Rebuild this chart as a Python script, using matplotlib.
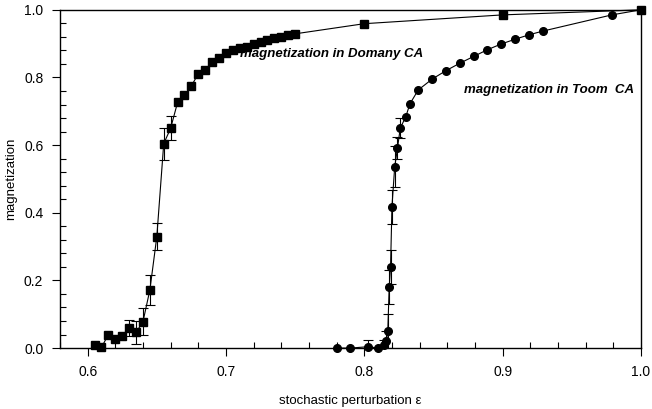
import numpy as np
import matplotlib

matplotlib.use('Agg')
import matplotlib.pyplot as plt
from matplotlib.ticker import MultipleLocator

plt.rcParams['font.family'] = ['Liberation Sans', 'DejaVu Sans']

# Domany CA
dom_eps = [0.605, 0.61, 0.615, 0.62, 0.625, 0.63, 0.635, 0.64, 0.645, 0.65,
           0.655, 0.66, 0.665, 0.67, 0.675, 0.68, 0.685, 0.69, 0.695, 0.70,
           0.705, 0.71, 0.715, 0.72, 0.725, 0.73, 0.735, 0.74, 0.745, 0.75,
           0.80, 0.90, 1.00]
dom_m = [0.009, 0.002, 0.040, 0.026, 0.036, 0.060, 0.046, 0.078, 0.172, 0.329,
         0.604, 0.650, 0.726, 0.747, 0.775, 0.811, 0.822, 0.845, 0.859, 0.872,
         0.880, 0.887, 0.891, 0.898, 0.904, 0.911, 0.916, 0.921, 0.926, 0.929,
         0.959, 0.985, 1.000]
dom_err = [0, 0, 0, 0, 0, 0.024, 0.033, 0.040, 0.045, 0.040,
           0.047, 0.036, 0, 0, 0, 0, 0, 0, 0, 0,
           0, 0, 0, 0, 0, 0, 0, 0, 0, 0,
           0, 0, 0]

# Toom CA
toom_eps = [0.78, 0.79, 0.803, 0.81, 0.814, 0.816, 0.817, 0.818, 0.819, 0.820,
            0.822, 0.824, 0.826, 0.830, 0.833, 0.839, 0.849, 0.859, 0.869, 0.879,
            0.889, 0.899, 0.909, 0.919, 0.929, 0.979, 1.000]
toom_m = [0.000, 0.000, 0.004, 0.000, 0.009, 0.020, 0.050, 0.180, 0.240, 0.418,
          0.536, 0.591, 0.650, 0.684, 0.722, 0.763, 0.795, 0.820, 0.842, 0.862,
          0.882, 0.899, 0.913, 0.926, 0.937, 0.985, 1.000]
toom_err = [0, 0, 0.02, 0, 0.015, 0.03, 0.05, 0.05, 0.05, 0.05,
            0.06, 0.032, 0.03, 0, 0, 0, 0, 0, 0, 0,
            0, 0, 0, 0, 0, 0, 0]


def draw_series(ax, eps, m, err, marker):
    ax.plot(eps, m, color='black', lw=0.8, marker=marker, ms=5.5,
            mfc='black', mec='black', zorder=3, clip_on=False)
    eps = np.array(eps)
    m = np.array(m)
    err = np.array(err)
    sel = err > 0
    ax.errorbar(eps[sel], m[sel], yerr=err[sel], fmt='none', ecolor='black',
                elinewidth=0.8, capsize=3.5, capthick=0.8, zorder=2)


fig = plt.figure(figsize=(6.52, 4.09), dpi=100)
ax = fig.add_axes([0.092, 0.149, 0.891, 0.827])

draw_series(ax, dom_eps, dom_m, dom_err, 's')
draw_series(ax, toom_eps, toom_m, toom_err, 'o')

ax.set_xlim(0.58, 1.0)
ax.set_ylim(0.0, 1.0)
ax.xaxis.set_major_locator(MultipleLocator(0.1))
ax.xaxis.set_minor_locator(MultipleLocator(0.02))
ax.yaxis.set_major_locator(MultipleLocator(0.2))
ax.yaxis.set_minor_locator(MultipleLocator(0.04))
ax.xaxis.set_major_formatter(plt.FormatStrFormatter('%.1f'))
ax.yaxis.set_major_formatter(plt.FormatStrFormatter('%.1f'))
ax.tick_params(which='major', direction='out', length=6, width=0.8,
               labelsize=10, pad=6)
ax.tick_params(which='minor', direction='in', length=4, width=0.8)
for s in ax.spines.values():
    s.set_linewidth(1.0)

ax.set_xlabel('stochastic perturbation ε', fontsize=9.5, labelpad=12)
ax.set_ylabel('magnetization', fontsize=9.5, labelpad=5)

ax.text(0.7105, 0.868, 'magnetization in Domany CA', fontsize=9.5,
        fontweight='bold', fontstyle='italic', va='center', ha='left')
ax.text(0.872, 0.763, 'magnetization in Toom  CA', fontsize=9.5,
        fontweight='bold', fontstyle='italic', va='center', ha='left')

fig.savefig('out.png', dpi=100)
